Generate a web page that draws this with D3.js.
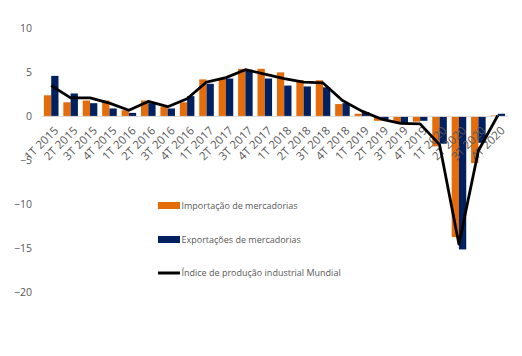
<!DOCTYPE html>
<html>
<head>
<meta charset="utf-8">
<script src="https://cdn.jsdelivr.net/npm/d3@7"></script>
<style>
  html, body { margin: 0; padding: 0; background: #fff; }
  svg { display: block; }
  text { font-family: "Open Sans", "Liberation Sans", sans-serif; fill: #595959; }
</style>
</head>
<body>
<svg id="chart" width="522" height="356"></svg>
<script>
// Quarterly year-on-year change (%)
const quarters = ["1T 2015","2T 2015","3T 2015","4T 2015","1T 2016","2T 2016","3T 2016","4T 2016",
                  "1T 2017","2T 2017","3T 2017","4T 2017","1T 2018","2T 2018","3T 2018","4T 2018",
                  "1T 2019","2T 2019","3T 2019","4T 2019","1T 2020","2T 2020","3T 2020","4T 2020"];
const importacao = [2.4, 1.6, 1.8, 1.8, 0.7, 1.8, 1.1, 1.6, 4.2, 4.3, 5.4, 5.4,
                    5.0, 4.1, 4.1, 1.4, 0.3, -0.5, -0.7, -0.6, -3.4, -13.7, -5.3, 0.1];
const exportacao = [4.6, 2.6, 1.5, 0.9, 0.4, 1.5, 0.9, 2.3, 3.7, 4.3, 5.3, 4.3,
                    3.5, 3.4, 3.3, 1.5, 0.5, -0.3, -0.8, -0.5, -3.1, -15.1, -3.0, 0.3];
const producao   = [3.5, 2.1, 2.1, 1.5, 0.7, 1.7, 1.1, 2.0, 3.9, 4.4, 5.3, 4.8,
                    4.3, 3.9, 3.8, 1.8, 0.6, -0.3, -0.8, -0.85, -3.2, -14.5, -3.9, 0.1];
const yTicks = [10, 5, 0, -5, -10, -15, -20];

const seriesNames = ["Importação de mercadorias", "Exportações de mercadorias",
                     "Índice de produção industrial Mundial"];
const colors = { imp: "#E46C0A", exp: "#002060", line: "#000000" };

const svg = d3.select("#chart");

const x = d3.scaleBand().domain(quarters).range([41.5, 507.5]).paddingInner(0.25).paddingOuter(0.125);
const xs = d3.scaleBand().domain(["imp", "exp"]).range([0, x.bandwidth()]);
const y = d3.scaleLinear().domain([-20, 10]).range([292.6, 28.3]);

// y-axis labels (no axis line, no grid)
const yAxis = svg.append("g").attr("transform", "translate(32,0)")
  .call(d3.axisLeft(y).tickValues(yTicks).tickSize(0).tickPadding(0));
yAxis.select(".domain").remove();
yAxis.selectAll("text").attr("font-size", 10.5).attr("fill", "#6a6a6a")
  .style("font-family", "'Open Sans', sans-serif");

// bars
const groups = svg.append("g").selectAll("g").data(quarters).join("g")
  .attr("transform", d => `translate(${x(d)},0)`);
groups.append("rect")
  .attr("x", xs("imp")).attr("width", xs.bandwidth())
  .attr("y", (d, i) => y(Math.max(0, importacao[i])))
  .attr("height", (d, i) => Math.abs(y(importacao[i]) - y(0)))
  .attr("fill", colors.imp);
groups.append("rect")
  .attr("x", xs("exp")).attr("width", xs.bandwidth())
  .attr("y", (d, i) => y(Math.max(0, exportacao[i])))
  .attr("height", (d, i) => Math.abs(y(exportacao[i]) - y(0)))
  .attr("fill", colors.exp);

// category axis along zero
const xAxis = svg.append("g").attr("transform", `translate(0,${y(0)})`)
  .call(d3.axisBottom(x).tickSize(0).tickPadding(0));
xAxis.select(".domain").attr("stroke", "#d9d9d9").attr("stroke-width", 1)
  .attr("d", `M${x.range()[0]},0H${x.range()[1]}`);
xAxis.selectAll("text")
  .attr("font-size", 11.5).attr("fill", "#6a6a6a")
  .style("font-family", "'Open Sans', sans-serif")
  .attr("text-anchor", "end")
  .attr("dy", "0.35em")
  .attr("transform", "translate(5,12) rotate(-45)");

// industrial production line
const line = d3.line()
  .x((d, i) => x(quarters[i]) + x.bandwidth() / 2)
  .y(d => y(d));
svg.append("path").datum(producao)
  .attr("d", line)
  .attr("fill", "none")
  .attr("stroke", colors.line)
  .attr("stroke-width", 2.8)
  .attr("stroke-linejoin", "round");

// legend
const legend = svg.append("g").attr("transform", "translate(158,0)");
const legendRows = [
  { name: seriesNames[0], type: "rect", color: colors.imp, cy: 205.5 },
  { name: seriesNames[1], type: "rect", color: colors.exp, cy: 239.5 },
  { name: seriesNames[2], type: "line", color: colors.line, cy: 273 }
];
legendRows.forEach(r => {
  if (r.type === "rect") {
    legend.append("rect").attr("x", 0).attr("y", r.cy - 3.5).attr("width", 22).attr("height", 7)
      .attr("fill", r.color);
  } else {
    legend.append("line").attr("x1", 0).attr("x2", 22).attr("y1", r.cy).attr("y2", r.cy)
      .attr("stroke", r.color).attr("stroke-width", 3);
  }
  legend.append("text").attr("x", 23.5).attr("y", r.cy).attr("dy", "0.35em")
    .attr("font-size", 9).attr("fill", "#6a6a6a")
    .text(r.name);
});
</script>
</body>
</html>
